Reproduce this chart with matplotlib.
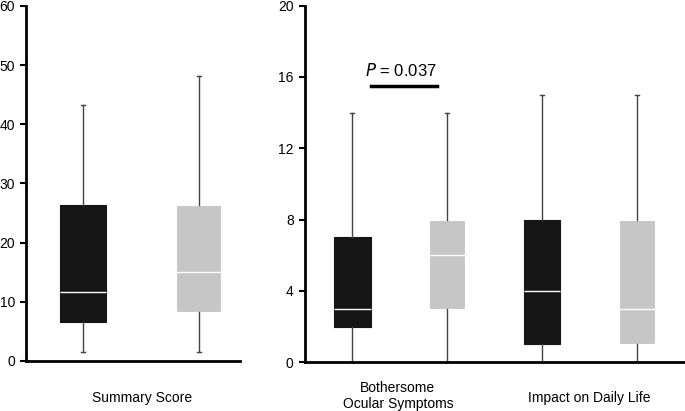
import matplotlib
matplotlib.use("Agg")
import matplotlib.pyplot as plt

plt.rcParams['font.family'] = ['Liberation Sans', 'DejaVu Sans']

# summary score (left panel)
summary_whislo = [1.6, 1.6]
summary_q1 = [6.6, 8.3]
summary_med = [11.7, 15.0]
summary_q3 = [26.4, 26.4]
summary_whishi = [43.2, 48.2]

# subscales (right panel): BOS black, BOS gray, IDL black, IDL gray
sub_whislo = [0, 0, 0, 0]
sub_q1 = [2, 3, 1, 1]
sub_med = [3, 6, 4, 3]
sub_q3 = [7, 8, 8, 8]
sub_whishi = [14, 14, 15, 15]

box_colors = ['#161616', '#c6c6c6']
p_text = '= 0.037'
p_y = 15.5


def make_stats(lo, q1, med, q3, hi):
    return [dict(whislo=a, q1=b, med=c, q3=d, whishi=e, fliers=[])
            for a, b, c, d, e in zip(lo, q1, med, q3, hi)]


def draw(ax, stats, positions, width):
    bp = ax.bxp(stats, positions=positions, widths=width, patch_artist=True,
                showfliers=False,
                whiskerprops=dict(color='#444444', linewidth=1.0),
                capprops=dict(color='#444444', linewidth=1.0),
                medianprops=dict(color='white', linewidth=1.0),
                boxprops=dict(linewidth=0.8))
    for i, patch in enumerate(bp['boxes']):
        patch.set_facecolor(box_colors[i % 2])
        patch.set_edgecolor('white' if i % 2 else '#161616')
    for c in bp['caps']:
        x = c.get_xdata()
        mid = (x[0] + x[1]) / 2
        c.set_xdata([mid - 0.02, mid + 0.02])


def style(ax):
    for s in ['top', 'right']:
        ax.spines[s].set_visible(False)
    ax.spines['left'].set_linewidth(2)
    ax.spines['bottom'].set_linewidth(2)
    ax.tick_params(axis='y', direction='out', length=4, width=1.5,
                   labelsize=10, pad=4)
    ax.tick_params(axis='x', length=0)
    ax.set_xticks([])


fig = plt.figure(figsize=(6.85, 4.11), dpi=100)

ax1 = fig.add_axes([0.038, 0.1217, 0.312, 0.864])
draw(ax1, make_stats(summary_whislo, summary_q1, summary_med, summary_q3,
                     summary_whishi), [1, 2], 0.39)
ax1.set_xlim(0.509, 2.353)
ax1.set_ylim(0, 60)
ax1.set_yticks(range(0, 61, 10))
style(ax1)
ax1.text(1.51, -6.3, 'Summary Score', ha='center', va='center', fontsize=10)

ax2 = fig.add_axes([0.445, 0.1185, 0.555, 0.868])
draw(ax2, make_stats(sub_whislo, sub_q1, sub_med, sub_q3, sub_whishi),
     [1, 2, 3, 4], 0.385)
ax2.set_xlim(0.5, 4.505)
ax2.set_ylim(0, 20)
ax2.set_yticks(range(0, 21, 4))
style(ax2)
ax2.text(1.48, -1.9, 'Bothersome\nOcular Symptoms', ha='center', va='center',
         fontsize=10, linespacing=1.2)
ax2.text(3.5, -2.0, 'Impact on Daily Life', ha='center', va='center',
         fontsize=10)

# significance bar
ax2.plot([1.2, 1.895], [p_y, p_y], color='black', linewidth=2.5)
ax2.text(1.51, p_y + 0.85, '$\\mathit{P}$ ' + p_text, ha='center',
         va='center', fontsize=12)

fig.savefig('out.png', dpi=100)
